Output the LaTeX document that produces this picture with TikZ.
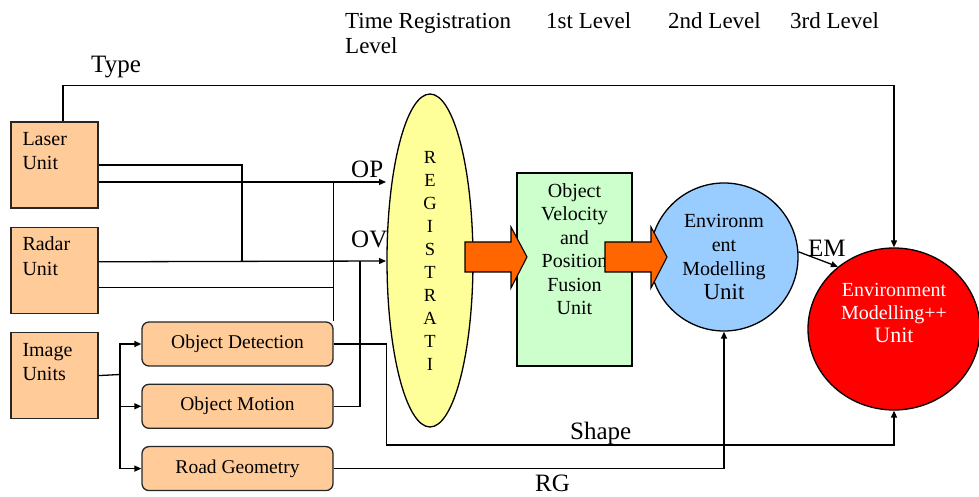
\documentclass[tikz,border=0pt]{standalone}
\usepackage{fontspec}
\setmainfont{Liberation Serif}
\usetikzlibrary{arrows.meta,positioning,shapes.geometric}
\definecolor{peach}{HTML}{FFCC99}
\definecolor{regyellow}{HTML}{FFFF99}
\definecolor{fusegreen}{HTML}{CCFFCC}
\definecolor{envblue}{HTML}{99CCFF}
\definecolor{fatorange}{HTML}{FF6600}
\newcommand{\unitlbl}[1]{\parbox[c][86pt][t]{64pt}{\raggedright\rule{0pt}{23.7pt}#1}}
\tikzset{
  unit/.style={draw=black!85,line width=1.3pt,fill=peach,inner xsep=11.5pt,inner ysep=0pt,
    font=\fontsize{20}{24.3}\selectfont},
  proc/.style={draw=black!85,line width=1.3pt,fill=peach,rounded corners=7pt,
    minimum width=191pt,minimum height=44pt,font=\fontsize{19.5}{24}\selectfont},
  wire/.style={line width=1.3pt},
  arr/.style={wire,-{Triangle[length=7pt,width=6pt]}},
  fat/.style={draw,line width=1.1pt,fill=fatorange},
  lbl/.style={font=\fontsize{25}{30}\selectfont,inner sep=0pt},
  toplbl/.style={font=\fontsize{23}{25}\selectfont,inner sep=0pt,align=left},
}
\begin{document}
\begin{tikzpicture}[x=1pt,y=1pt]
    \useasboundingbox (0,0) rectangle (979,497);
    % level headings
    \node[toplbl,anchor=base west] (tlev) at (345,443) {Time Registration\\Level};
    \node[toplbl,anchor=base west] (lev1) at (546,468) {1st Level};
    \node[toplbl,anchor=base west] (lev2) at (668,468) {2nd Level};
    \node[toplbl,anchor=base west] (lev3) at (790,468) {3rd Level};
    % sensor units
    \node[unit] (laser) at (54.5,332) {\unitlbl{Laser\\Unit}};
    \node[unit,below=18pt of laser] (radar) {\unitlbl{Radar\\Unit}};
    \node[unit,below=18pt of radar] (image) {\unitlbl{Image\\Units}};
    \node[proc] (odet) at (237.5,153) {Object Detection};
    \node[proc,below=17pt of odet] (omot) {Object Motion};
    \node[proc,below=17pt of omot] (road) {Road Geometry};
    % levels
    \node[draw,line width=1.3pt,fill=regyellow,ellipse,minimum width=86pt,minimum height=333pt,
      inner sep=0pt,align=center,font=\fontsize{18.5}{23}\selectfont]
      (reg) at (430,236.5) {R\\E\\G\\I\\S\\T\\R\\A\\T\\I};
    \node[draw,line width=1.3pt,fill=fusegreen,inner sep=0pt,font=\fontsize{20}{23.5}\selectfont]
      (fuse) at (574.5,227.5) {\parbox[c][193pt][t]{115pt}{\centering\rule{0pt}{24.5pt}Object\\Velocity\\and\\Position\\Fusion\\Unit}};
    \node[draw,line width=1.3pt,fill=envblue,circle,minimum size=148pt,inner sep=0pt,align=center,
      font=\fontsize{20}{24}\selectfont]
      (envm) at (724,240) {Environm\\ent\\Modelling\\{\fontsize{23}{24}\selectfont Unit}};
    \node[draw,line width=1.3pt,fill=red,ellipse,minimum width=172pt,minimum height=162pt]
      (envpp) at (894,168) {};
    \node[white,align=center,inner sep=0pt,font=\fontsize{20}{23}\selectfont]
      (envpptxt) at ([yshift=16pt]envpp.center) {Environment\\Modelling++\\{\fontsize{22}{25}\selectfont Unit}};
    % block arrows
    \foreach \x in {465,605}
      \draw[fat] (\x,255) -- ++(46,0) -- ++(0,15) -- ++(16,-30) -- ++(-16,-31) -- ++(0,16) -- ++(-46,0) -- cycle;
    % wiring
    \coordinate (op) at (386,315);
    \coordinate (ov) at (386,236);
    \coordinate (lasertap) at (242,236);
    \coordinate (ovtap) at (360,236);
    \coordinate (imgtap) at (120,122.5);
    \draw[arr] ([xshift=8.5pt]laser.north) -- ++(0,36pt) -| (envpp.north);
    \draw[wire] (laser.east) -| (lasertap);
    \draw[arr] ([yshift=-17pt]laser.east) -- (op);
    \draw[arr] ([yshift=8.5pt]radar.east) -- (ov);
    \draw[wire] ([yshift=-17.5pt]radar.east) -- ([yshift=-17.5pt]radar.east -| odet.north east);
    \draw[wire] (odet.north east) -- (odet.north east |- op);
    \draw[wire] (omot.east) -| (ovtap);
    \draw[wire] (image.east) -- (imgtap);
    \foreach \n in {odet,omot,road}
      \draw[arr] (imgtap) |- (\n.west);
    \draw[arr] (odet.east) -| ++(53pt,-101pt) -| (envpp.south);
    \draw[arr] (road.east) -| (envm.south);
    \draw[arr] (envm.4) -- (envpp.132);
    % labels
    \node[lbl,anchor=base west] (typelbl) at (91,424) {Type};
    \node[lbl,anchor=base west] (oplbl) at (351,319) {OP};
    \node[lbl,anchor=base west] (ovlbl) at (351,249) {OV};
    \node[lbl,anchor=base west] (shapelbl) at (570,57) {Shape};
    \node[lbl,anchor=base west] (rglbl) at (535,5) {RG};
    \node[lbl,anchor=base west] (emlbl) at (808,240) {EM};
\end{tikzpicture}
\end{document}
